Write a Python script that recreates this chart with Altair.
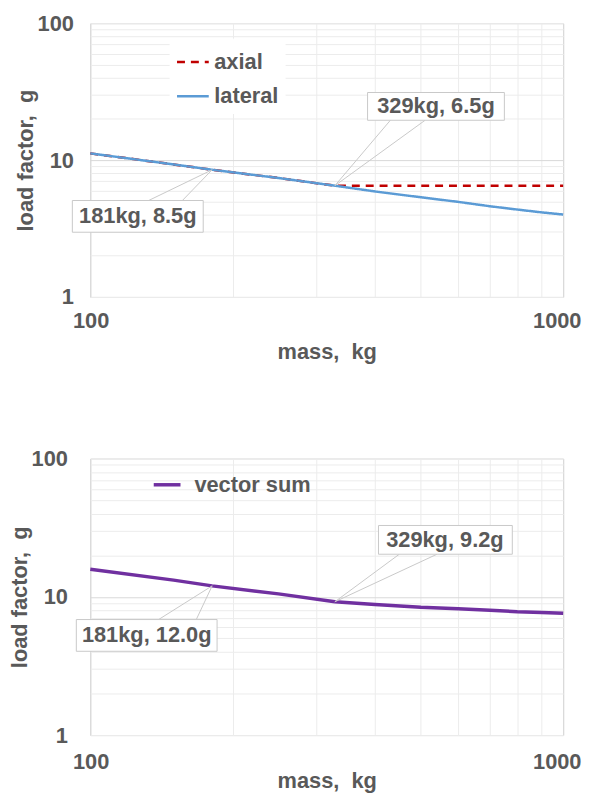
import altair as alt
import pandas as pd

# ---- data ----
mass = [100, 150, 181, 250, 329, 400, 500, 600, 700, 800, 900, 1000]
axial = [11.2, 9.3, 8.5, 7.4, 6.5, 6.5, 6.5, 6.5, 6.5, 6.5, 6.5, 6.5]
lateral = [11.2, 9.3, 8.5, 7.4, 6.5, 5.9, 5.35, 4.95, 4.6, 4.35, 4.15, 4.0]
vector_sum = [15.8, 13.2, 12.0, 10.5, 9.2, 8.8, 8.4, 8.2, 8.0, 7.8, 7.7, 7.6]

series_top = ["axial", "lateral"]
series_bottom = ["vector sum"]

ann_mass = [181, 329]
ann_top = [8.5, 6.5]
ann_bottom = [12.0, 9.2]

x_ticks = [100, 200, 300, 400, 500, 600, 700, 800, 900, 1000]
x_labels = [100, 1000]
y_ticks = [1, 2, 3, 4, 5, 6, 7, 8, 9, 10, 20, 30, 40, 50, 60, 70, 80, 90, 100]
y_labels = [1, 10, 100]

# ---- styles ----
FONT = "Liberation Sans"
FS = 22
TXT = "#595959"
GRID = "#ececec"
GRID_MAJOR = "#d9d9d9"
BOX = "#c8c8c8"

top_df = pd.DataFrame({
    "mass": mass * 2,
    "g": axial + lateral,
    "series": ["axial"] * len(mass) + ["lateral"] * len(mass),
})
bot_df = pd.DataFrame({"mass": mass, "g": vector_sum, "series": ["vector sum"] * len(mass)})

xs = alt.Scale(type="log", domain=[100, 1000], nice=False)
ys = alt.Scale(type="log", domain=[1, 100], nice=False)

x_label_test = " || ".join(f"datum.value == {v}" for v in x_labels)
y_label_test = " || ".join(f"datum.value == {v}" for v in y_labels)


def x_axis(label_pad, title_y):
    return alt.Axis(
        values=x_ticks,
        labelExpr=f"({x_label_test}) ? format(datum.value, 'd') : ''",
        labelOverlap=False,
        labelFlush=True,
        labelFlushOffset=18,
        labelPadding=label_pad,
        title="mass,\u00a0 kg",
        titleY=title_y,
        gridColor=alt.condition(x_label_test, alt.value(GRID_MAJOR), alt.value(GRID)),
    )


def y_axis(label_pad, title_x):
    return alt.Axis(
        values=y_ticks,
        labelExpr=f"({y_label_test}) ? format(datum.value, 'd') : ''",
        labelOverlap=False,
        labelFlush=False,
        labelPadding=label_pad,
        title="load factor,\u00a0 g",
        titleX=title_x,
        gridColor=alt.condition("datum.value == 10", alt.value(GRID_MAJOR), alt.value(GRID)),
    )


def annotation(m, g, box, wedge, tdx, tdy, xa, ya):
    d = pd.DataFrame({"mass": [m], "g": [g], "label": [f"{m}kg, {g:.1f}g"]})
    base = alt.Chart(d).encode(
        x=alt.X("mass:Q", scale=xs, axis=xa),
        y=alt.Y("g:Q", scale=ys, axis=ya),
    )
    x0, x1, y0, y1 = box
    box_path = f"M{x0},{y0}H{x1}V{y1}H{x0}Z"
    (ax, ay), (bx, by) = wedge
    wedge_path = f"M{ax},{ay}L0,0L{bx},{by}"
    w = base.mark_point(shape=wedge_path, size=4, filled=False, stroke=BOX,
                        strokeWidth=1, opacity=1)
    b = base.mark_point(shape=box_path, size=4, filled=True, fill="white", stroke=BOX,
                        strokeWidth=1, opacity=1)
    t = base.mark_text(align="center", baseline="middle", dx=tdx, dy=tdy, fontSize=FS,
                       fontWeight="bold", font=FONT, color=TXT).encode(text="label:N")
    return [w, b, t]


# ---- top chart ----
xa_t = x_axis(14, 45)
ya_t = y_axis(17, -53.5)

legend_top = alt.Legend(
    orient="none", legendX=80, legendY=15.5, title=None, symbolType="stroke",
    symbolSize=1024, symbolStrokeWidth=2.5, labelFontSize=FS, labelFontWeight="bold",
    labelColor=TXT, labelFont=FONT, labelOffset=4, padding=6, rowPadding=5.5,
    fillColor="white", strokeColor="white",
)

lines_top = alt.Chart(top_df).mark_line(strokeWidth=2.5, strokeCap="butt").encode(
    x=alt.X("mass:Q", scale=xs, axis=xa_t),
    y=alt.Y("g:Q", scale=ys, axis=ya_t),
    color=alt.Color("series:N", scale=alt.Scale(domain=series_top, range=["#C00000", "#5B9BD5"]),
                    legend=legend_top),
    strokeDash=alt.StrokeDash("series:N", scale=alt.Scale(domain=series_top, range=[[8, 6], [1, 0]]),
                              legend=legend_top),
    order=alt.Order("series:N", sort="ascending"),
)

top_layers = [lines_top]
top_layers += annotation(ann_mass[0], ann_top[0], (-141, -9, 31, 63), ((-64, 31), (-30, 31)),
                         -75, 47, xa_t, ya_t)
top_layers += annotation(ann_mass[1], ann_top[1], (33, 171, -94, -66), ((56, -66), (91, -66)),
                         102, -80, xa_t, ya_t)
top = alt.layer(*top_layers).properties(width=477, height=276)

# ---- bottom chart ----
xa_b = x_axis(17, 36)
ya_b = y_axis(23, -59)

legend_bot = alt.Legend(
    orient="none", legendX=56, legendY=5, title=None, symbolType="stroke",
    symbolSize=729, symbolStrokeWidth=3.5, labelFontSize=FS, labelFontWeight="bold",
    labelColor=TXT, labelFont=FONT, labelOffset=12, padding=6, rowPadding=0,
)

line_bot = alt.Chart(bot_df).mark_line(strokeWidth=3.5, strokeCap="butt").encode(
    x=alt.X("mass:Q", scale=xs, axis=xa_b),
    y=alt.Y("g:Q", scale=ys, axis=ya_b),
    color=alt.Color("series:N", scale=alt.Scale(domain=series_bottom, range=["#7030A0"]),
                    legend=legend_bot),
)

bot_layers = [line_bot]
bot_layers += annotation(ann_mass[0], ann_bottom[0], (-137, 5, 34, 66), ((-54, 34), (-16, 34)),
                         -66, 50, xa_b, ya_b)
bot_layers += annotation(ann_mass[1], ann_bottom[1], (44, 179, -77, -48), ((65, -48), (103, -48)),
                         111, -62, xa_b, ya_b)
bottom = alt.layer(*bot_layers).properties(width=477, height=279)

chart = alt.vconcat(top, bottom, spacing=84).resolve_scale(
    color="independent", strokeDash="independent"
).properties(
    padding={"left": 0, "top": 0, "right": 0, "bottom": 0}
).configure_view(
    stroke="#d9d9d9", strokeWidth=1
).configure_axis(
    domain=False, ticks=False, tickSize=0,
    labelFont=FONT, labelFontSize=FS, labelFontWeight="bold", labelColor=TXT,
    titleFont=FONT, titleFontSize=FS, titleFontWeight="bold", titleColor=TXT,
    gridWidth=1,
).configure_legend(
    labelFont=FONT,
)

chart.save("out.html", embed_options={"renderer": "svg", "actions": False})
